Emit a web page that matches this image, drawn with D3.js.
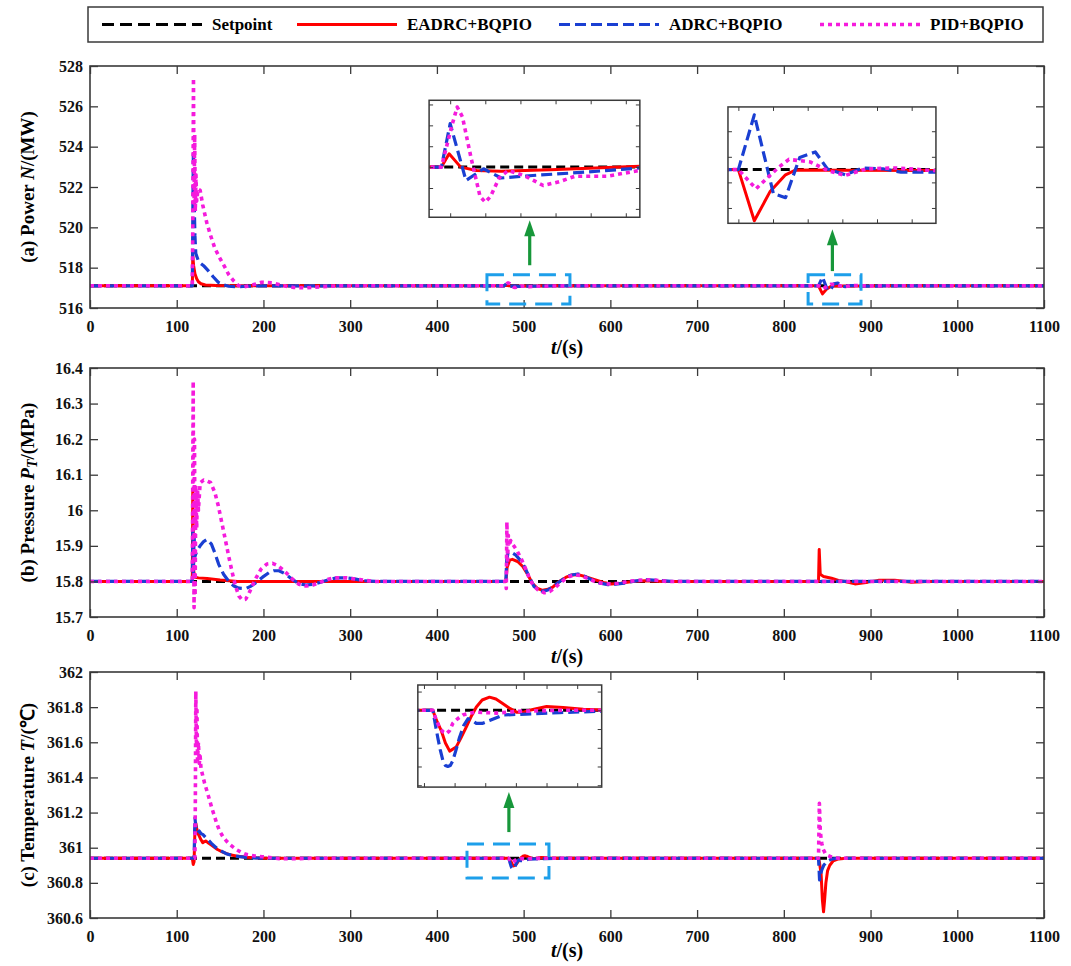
<!DOCTYPE html>
<html>
<head>
<meta charset="utf-8">
<script src="https://cdnjs.cloudflare.com/ajax/libs/d3/7.8.5/d3.min.js"></script>
<style>
body { margin: 0; background: #fff; }
svg text { font-family: "Liberation Serif", "Times New Roman", serif; font-weight: bold; }
</style>
</head>
<body>
<svg id="chart" width="1071" height="966"></svg>
<script>
// ---- data ----
const seriesNames = ["Setpoint", "EADRC+BQPIO", "ADRC+BQPIO", "PID+BQPIO"]

const timeTicks = [0, 100, 200, 300, 400, 500, 600, 700, 800, 900, 1000, 1100]
const powerTicks = [516, 518, 520, 522, 524, 526, 528]
const pressureTicks = [15.7, 15.8, 15.9, 16, 16.1, 16.2, 16.3, 16.4]
const tempTicks = [360.6, 360.8, 361, 361.2, 361.4, 361.6, 361.8, 362]

// (a) power N, MW  -- [t, value]
const powerSet = [[0, 517.1], [1100, 517.1]]
const powerEadrc = [[0, 517.1], [118, 517.1], [118.5, 518.6], [119.5, 518.1], [121, 517.7], [123, 517.45], [125, 517.3], [128, 517.2], [133, 517.14], [145, 517.11], [170, 517.1],
  [477.5, 517.1], [479.7, 517.132], [483, 517.1], [487.5, 517.092], [494.5, 517.09], [508.5, 517.094], [534, 517.102], [560, 517.1],
  [840, 517.1], [844.6, 516.70], [849.1, 516.926], [853.6, 517.059], [856.6, 517.097], [870, 517.095], [897, 517.092], [920, 517.1], [1100, 517.1]]
const powerAdrc = [[0, 517.1], [118, 517.1], [118.6, 521], [119.2, 523.8], [120, 521.5], [121, 519.6], [122, 518.7], [125, 518.33], [128, 518.2], [131, 518.1], [136.5, 517.84], [142, 517.55], [148, 517.27], [154, 517.15], [160, 517.08], [168, 517.05], [180, 517.08], [200, 517.1],
  [477.5, 517.1], [480, 517.204], [484.5, 517.068], [489.5, 517.096], [494.5, 517.074], [503.5, 517.08], [518.5, 517.088], [534, 517.098], [560, 517.1],
  [840, 517.1], [844.6, 517.528], [850.1, 516.913], [853.6, 516.88], [857.7, 517.195], [862.2, 517.238], [865.7, 517.105], [870.8, 517.059], [875.8, 517.113], [881.9, 517.105], [886.9, 517.08], [897, 517.08], [915, 517.1], [1100, 517.1]]
const powerPid = [[0, 517.1], [118, 517.1], [118.6, 520.5], [119.3, 527.4], [120, 521.2], [120.7, 524.6], [121.4, 520.8], [122.2, 522.6], [123, 521.3], [124.5, 521.9], [127, 521.84], [130, 521.1], [134.6, 520.24], [139, 519.6], [144, 518.96], [150, 518.45], [155.8, 518.0], [160, 517.65], [165.4, 517.36], [171, 517.12], [178, 517.05], [188, 517.15], [198, 517.28], [210, 517.25], [221, 517.12], [235, 517.02], [250, 517.0], [265, 517.05], [285, 517.1],
  [477.5, 517.1], [480.5, 517.2], [482, 517.244], [483.5, 517.22], [486, 517.12], [488.5, 517.03], [490, 517.016], [491.5, 517.03], [494, 517.075], [496.5, 517.092], [501, 517.08], [506.5, 517.056], [511, 517.065], [515.5, 517.078], [524.5, 517.078], [534, 517.092], [560, 517.1],
  [840, 517.1], [845.1, 516.95], [851.6, 517.118], [854.6, 517.18], [860.7, 517.16], [865.7, 517.093], [870.8, 517.054], [876.8, 517.105], [884.9, 517.113], [897, 517.092], [915, 517.1], [1100, 517.1]]

// (b) main steam pressure PT, MPa
const pressSet = [[0, 15.8], [1100, 15.8]]
const pressEadrc = [[0, 15.8], [118, 15.8], [118.5, 16.058], [119.5, 15.83], [121, 15.812], [125, 15.81], [135, 15.808], [150, 15.804], [170, 15.8],
  [479.5, 15.8], [481, 15.84], [484, 15.86], [487, 15.862], [493, 15.856], [499, 15.842], [505, 15.818], [510, 15.795], [516, 15.78], [522, 15.775], [528, 15.778], [533.6, 15.784], [541, 15.8], [549, 15.812], [556, 15.818], [562.5, 15.819], [572, 15.813], [582, 15.805], [592, 15.797], [601, 15.793], [612, 15.795], [625, 15.8], [640, 15.802], [660, 15.8],
  [840, 15.8], [840.8, 15.89], [842, 15.82], [845.8, 15.814], [855, 15.809], [863, 15.803], [870.6, 15.8], [882, 15.793], [897, 15.798], [909, 15.803], [928, 15.803], [947, 15.798], [965, 15.8], [1100, 15.8]]
const pressAdrc = [[0, 15.8], [118, 15.8], [118.5, 15.95], [119.2, 15.82], [120, 15.93], [121, 15.87], [123, 15.885], [127, 15.9], [131, 15.912], [135, 15.918], [140, 15.905], [144, 15.88], [148.4, 15.848], [154, 15.82], [160, 15.8], [166, 15.787], [171.7, 15.781], [179.5, 15.78], [185, 15.786], [191, 15.796], [199, 15.812], [206.6, 15.825], [212, 15.83], [218, 15.83], [226, 15.82], [233.7, 15.805], [241, 15.794], [249, 15.79], [257, 15.792], [265, 15.797], [275, 15.805], [284, 15.81], [294, 15.81], [303.5, 15.808], [315, 15.802], [330, 15.8],
  [479.5, 15.8], [480.5, 15.86], [482, 15.88], [484, 15.883], [487, 15.88], [491, 15.874], [496, 15.86], [500.8, 15.842], [506, 15.815], [512, 15.786], [517, 15.776], [522, 15.772], [528, 15.776], [533.6, 15.784], [540, 15.797], [547, 15.809], [555, 15.818], [562.5, 15.821], [570, 15.815], [578, 15.805], [587, 15.796], [597, 15.791], [606, 15.792], [616, 15.795], [628, 15.801], [640, 15.805], [655, 15.803], [670, 15.8],
  [840, 15.8], [840.8, 15.795], [843, 15.8], [1100, 15.8]]
const pressPid = [[0, 15.8], [118, 15.8], [118.5, 16.1], [119, 16.363], [119.5, 15.9], [120, 15.726], [120.5, 16.2], [121.2, 15.76], [122, 16.07], [123, 15.95], [124, 16.06], [125, 16.0], [127, 16.077], [131, 16.085], [135, 16.082], [139, 16.078], [144, 16.05], [148, 16.012], [152, 15.965], [156, 15.918], [160, 15.87], [164, 15.825], [168, 15.785], [171.7, 15.759], [175.5, 15.748], [179.5, 15.75], [183, 15.765], [187, 15.787], [192, 15.812], [197, 15.834], [204, 15.849], [210.5, 15.851], [216, 15.845], [222, 15.834], [228, 15.82], [233.7, 15.806], [241, 15.792], [249, 15.787], [257, 15.79], [265, 15.797], [273, 15.805], [282, 15.81], [296, 15.81], [311, 15.805], [327, 15.8],
  [479.5, 15.8], [480, 15.78], [480.7, 15.967], [481.5, 15.85], [482.3, 15.93], [483.4, 15.9], [485, 15.915], [487, 15.906], [492, 15.888], [497, 15.865], [502, 15.837], [506.6, 15.809], [511, 15.79], [516, 15.777], [524, 15.768], [530, 15.772], [535.5, 15.781], [541, 15.793], [547, 15.805], [553, 15.814], [558.7, 15.819], [566, 15.816], [574, 15.808], [582, 15.8], [590, 15.795], [597, 15.793], [609, 15.795], [620, 15.8], [632, 15.803], [647.5, 15.805], [665, 15.8],
  [1100, 15.8]]

// (c) main steam temperature T, degC
const tempSet = [[0, 360.94], [1100, 360.94]]
const tempEadrc = [[0, 360.94], [118, 360.94], [119, 360.905], [120, 360.92], [121, 361.1], [122, 361.14], [123, 361.11], [124.5, 361.08], [126, 361.066], [128, 361.045], [130, 361.028], [132, 361.035], [133.8, 361.038], [137, 361.025], [141.5, 361.01], [147, 360.99], [153, 360.975], [160, 360.962], [168.5, 360.953], [180, 360.946], [195, 360.942], [210, 360.94],
  [482.9, 360.94], [484, 360.93], [485.6, 360.9186], [487, 360.905], [488.4, 360.8964], [490.5, 360.9007], [492, 360.91], [493.8, 360.922], [495.5, 360.934], [497.1, 360.9436], [499, 360.951], [501.4, 360.954], [503.5, 360.952], [505.8, 360.947], [508, 360.942], [510.2, 360.938], [512.5, 360.938], [514.5, 360.94], [517, 360.942], [520, 360.944], [525.4, 360.943], [532, 360.941], [540, 360.94],
  [840, 360.94], [841, 360.92], [843, 360.85], [844.5, 360.7], [845.8, 360.635], [847, 360.7], [848.5, 360.8], [850.5, 360.87], [853, 360.9], [857, 360.925], [863, 360.936], [872, 360.94], [1100, 360.94]]
const tempAdrc = [[0, 360.94], [120, 360.94], [120.5, 361.05], [121, 361.17], [122, 361.12], [123, 361.1], [124, 361.085], [126, 361.095], [128, 361.08], [130, 361.076], [133, 361.06], [135.8, 361.047], [140, 361.025], [145.4, 361.0], [151, 360.982], [157, 360.966], [164, 360.956], [172, 360.949], [185, 360.943], [200, 360.94],
  [482.9, 360.94], [483.7, 360.925], [484.5, 360.911], [485.3, 360.898], [486.2, 360.886], [487, 360.881], [487.8, 360.88], [488.6, 360.881], [489.4, 360.886], [490.5, 360.898], [491.6, 360.911], [493, 360.924], [494.4, 360.931], [495.8, 360.929], [497.1, 360.926], [499, 360.926], [501.4, 360.929], [505.8, 360.935], [513.4, 360.936], [524.3, 360.9375], [538, 360.939], [550, 360.94],
  [840, 360.94], [840.6, 360.88], [841.2, 360.817], [842, 360.84], [843.8, 360.874], [846, 360.9], [849.6, 360.921], [855, 360.935], [862, 360.94], [1100, 360.94]]
const tempPid = [[0, 360.94], [121, 360.94], [121.5, 361.3], [122, 361.89], [122.7, 361.6], [123.3, 361.8], [124, 361.5], [125, 361.6], [126, 361.48], [127, 361.52], [128, 361.45], [130, 361.41], [132, 361.37], [135, 361.32], [137.7, 361.275], [140.5, 361.225], [143.5, 361.18], [146, 361.14], [149, 361.1], [153, 361.065], [157, 361.04], [162, 361.015], [168.5, 360.99], [174, 360.975], [180, 360.962], [190, 360.953], [199, 360.949], [210, 360.943], [218.5, 360.937], [237.7, 360.937], [255, 360.94],
  [482.9, 360.94], [484, 360.93], [485, 360.922], [486.2, 360.917], [487.3, 360.915], [488.3, 360.918], [489.4, 360.926], [491, 360.931], [492.7, 360.935], [495, 360.937], [497.1, 360.938], [503.6, 360.937], [511.2, 360.939], [525, 360.94],
  [840, 360.94], [840.5, 361.1], [841, 361.253], [842, 361.1], [843, 361.05], [843.8, 361.025], [845.5, 360.99], [847.7, 360.968], [850, 360.958], [853.5, 360.95], [858, 360.944], [863, 360.94], [1100, 360.94]]

// axis titles, [text, italic, subscript]
const labelA = [["(a) Power ", false], ["N", true], ["/(MW)", false]]
const labelB = [["(b) Pressure ", false], ["P", true], ["T", true, true], ["/(MPa)", false]]
const labelC = [["(c) Temperature ", false], ["T", true], ["/(℃)", false]]

// ---- styles / layout ----
const styles = [
  { color: "#000000", width: 3, dash: "9,5" },
  { color: "#ff0000", width: 3, dash: null },
  { color: "#1a3fd2", width: 3.2, dash: "11,5" },
  { color: "#f51bdc", width: 3.6, dash: "4,4" }
]
const serif = "Liberation Serif, Times New Roman, serif"
const frameColor = "#3a3a3a"
const plotLeft = 90, plotRight = 1044

const panels = [
  { top: 66, bottom: 308, yDomain: [516, 528], yTicks: powerTicks, label: labelA,
    series: [powerSet, powerEadrc, powerAdrc, powerPid],
    insets: [
      { box: [391, 634, 520.5, 526.3], xd: [474, 534], yd: [516.98, 517.26], rect: [457.7, 553.4, 516.2, 517.65], arrow: [507, 518.12, 520.35] },
      { box: [735.6, 975.4, 520.2, 525.97], xd: [837, 897], yd: [516.68, 517.59], rect: [828, 889, 516.2, 517.65], arrow: [856, 517.83, 519.9] }
    ] },
  { top: 368, bottom: 617, yDomain: [15.7, 16.4], yTicks: pressureTicks, label: labelB,
    series: [pressSet, pressEadrc, pressAdrc, pressPid], insets: [] },
  { top: 672, bottom: 918, yDomain: [360.6, 362], yTicks: tempTicks, label: labelC,
    series: [tempSet, tempEadrc, tempAdrc, tempPid],
    insets: [
      { box: [378, 590, 361.345, 361.926], xd: [478, 538], yd: [360.858, 360.967], rect: [434.7, 529.2, 360.828, 361.021], arrow: [483, 361.089, 361.317] }
    ] }
]

let svg = d3.select("#chart")
let x = d3.scaleLinear().domain([0, 1100]).range([plotLeft, plotRight])
let fmt = (d) => String(+d.toFixed(1))
let clipId = 0

let drawLines = (g, seriesList, xs, ys) => {
  let line = d3.line().x((d) => xs(d[0])).y((d) => ys(d[1]))
  seriesList.forEach((data, i) => {
    let st = styles[i]
    g.append("path")
      .datum(data)
      .attr("d", line)
      .attr("fill", "none")
      .attr("stroke", st.color)
      .attr("stroke-width", st.width)
      .attr("stroke-dasharray", st.dash)
      .attr("stroke-linejoin", "round")
  })
}

let styleAxis = (g, size) => {
  g.attr("font-family", serif).attr("font-size", size).attr("font-weight", "bold")
  g.select(".domain").remove()
  g.selectAll(".tick line").attr("stroke", frameColor).attr("stroke-width", 1.3)
  g.selectAll(".tick text").attr("fill", "#111")
}

let clipped = (g, x0, y0, w, h) => {
  let id = "clip" + (clipId++)
  g.append("clipPath").attr("id", id).append("rect").attr("x", x0).attr("y", y0).attr("width", w).attr("height", h)
  return g.append("g").attr("clip-path", "url(#" + id + ")")
}

let drawInset = (g, seriesList, xs, ys, inset) => {
  let [t0, t1, v0, v1] = inset.box
  let ix = d3.scaleLinear().domain(inset.xd).range([xs(t0), xs(t1)])
  let iy = d3.scaleLinear().domain(inset.yd).range([ys(v0), ys(v1)])
  let w = xs(t1) - xs(t0), h = ys(v0) - ys(v1)

  // dashed box over the zoomed region
  let [r0, r1, rv0, rv1] = inset.rect
  g.append("rect")
    .attr("x", xs(r0)).attr("y", ys(rv1))
    .attr("width", xs(r1) - xs(r0)).attr("height", ys(rv0) - ys(rv1))
    .attr("fill", "none").attr("stroke", "#1d9fea").attr("stroke-width", 3)
    .attr("stroke-dasharray", "17,9")

  // green arrow
  let [at, a0, a1] = inset.arrow
  g.append("line")
    .attr("x1", xs(at)).attr("x2", xs(at)).attr("y1", ys(a0)).attr("y2", ys(a1) + 14)
    .attr("stroke", "#17973a").attr("stroke-width", 3.2)
  g.append("path")
    .attr("d", `M${xs(at)},${ys(a1)} L${xs(at) - 5.5},${ys(a1) + 16} L${xs(at) + 5.5},${ys(a1) + 16} Z`)
    .attr("fill", "#17973a")

  g.append("rect").attr("x", xs(t0)).attr("y", ys(v1)).attr("width", w).attr("height", h).attr("fill", "#fff")
  let lines = clipped(g, xs(t0), ys(v1), w, h)
  drawLines(lines, seriesList, ix, iy)

  let ax = [
    [d3.axisBottom(ix).ticks(6), `translate(0,${ys(v0)})`],
    [d3.axisTop(ix).ticks(6), `translate(0,${ys(v1)})`],
    [d3.axisLeft(iy).ticks(5), `translate(${xs(t0)},0)`],
    [d3.axisRight(iy).ticks(5), `translate(${xs(t1)},0)`]
  ]
  ax.forEach(([a, tr]) => {
    let ag = g.append("g").attr("transform", tr).call(a.tickSizeInner(-4).tickSizeOuter(0).tickFormat(""))
    styleAxis(ag, 10)
    ag.selectAll(".tick line").attr("stroke-width", 1)
  })
  g.append("rect").attr("x", xs(t0)).attr("y", ys(v1)).attr("width", w).attr("height", h)
    .attr("fill", "none").attr("stroke", frameColor).attr("stroke-width", 1.5)
}

panels.forEach((p) => {
  let g = svg.append("g")
  let y = d3.scaleLinear().domain(p.yDomain).range([p.bottom, p.top])
  let w = plotRight - plotLeft, h = p.bottom - p.top

  let lines = clipped(g, plotLeft, p.top, w, h)
  drawLines(lines, p.series, x, y)

  let bottomAxis = g.append("g").attr("transform", `translate(0,${p.bottom})`)
    .call(d3.axisBottom(x).tickValues(timeTicks).tickSizeInner(-8).tickSizeOuter(0).tickPadding(13).tickFormat(fmt))
  styleAxis(bottomAxis, 16)
  let topAxis = g.append("g").attr("transform", `translate(0,${p.top})`)
    .call(d3.axisTop(x).tickValues(timeTicks).tickSizeInner(-8).tickSizeOuter(0).tickFormat(""))
  styleAxis(topAxis, 16)
  let leftAxis = g.append("g").attr("transform", `translate(${plotLeft},0)`)
    .call(d3.axisLeft(y).tickValues(p.yTicks).tickSizeInner(-8).tickSizeOuter(0).tickPadding(7).tickFormat(fmt))
  styleAxis(leftAxis, 16)
  let rightAxis = g.append("g").attr("transform", `translate(${plotRight},0)`)
    .call(d3.axisRight(y).tickValues(p.yTicks).tickSizeInner(-8).tickSizeOuter(0).tickFormat(""))
  styleAxis(rightAxis, 16)

  g.append("rect").attr("x", plotLeft).attr("y", p.top).attr("width", w).attr("height", h)
    .attr("fill", "none").attr("stroke", frameColor).attr("stroke-width", 1.6)

  p.insets.forEach((inset) => drawInset(g, p.series, x, y, inset))

  // x title
  let xt = g.append("text")
    .attr("x", (plotLeft + plotRight) / 2).attr("y", Math.min(p.bottom + 39, 950))
    .attr("text-anchor", "middle").attr("dominant-baseline", "central")
    .attr("font-family", serif).attr("font-size", 20)
  xt.append("tspan").attr("font-style", "italic").text("t")
  xt.append("tspan").text("/(s)")

  // y title
  let yt = g.append("text")
    .attr("transform", `translate(27,${(p.top + p.bottom) / 2}) rotate(-90)`)
    .attr("text-anchor", "middle").attr("dominant-baseline", "central")
    .attr("font-family", serif).attr("font-size", 19)
  let shifted = false
  p.label.forEach(([txt, ital, sub]) => {
    let ts = yt.append("tspan").text(txt)
    if (ital) ts.attr("font-style", "italic")
    if (sub) { ts.attr("font-size", 14).attr("dy", 5); shifted = true }
    else if (shifted) { ts.attr("dy", -5); shifted = false }
  })
})

// legend
let legend = svg.append("g")
legend.append("rect").attr("x", 88).attr("y", 7).attr("width", 955).attr("height", 35)
  .attr("fill", "#fff").attr("stroke", frameColor).attr("stroke-width", 1.5)
const legendStarts = [102, 297, 559, 820]
seriesNames.forEach((name, i) => {
  let lx = legendStarts[i]
  let st = styles[i]
  legend.append("line").attr("x1", lx).attr("x2", lx + 100).attr("y1", 24.5).attr("y2", 24.5)
    .attr("stroke", st.color).attr("stroke-width", st.width).attr("stroke-dasharray", i === 0 ? "12,6" : st.dash)
  legend.append("text").attr("x", lx + 110).attr("y", 24.5).attr("dominant-baseline", "central")
    .attr("font-family", serif).attr("font-size", 17).text(name)
})
</script>
</body>
</html>
